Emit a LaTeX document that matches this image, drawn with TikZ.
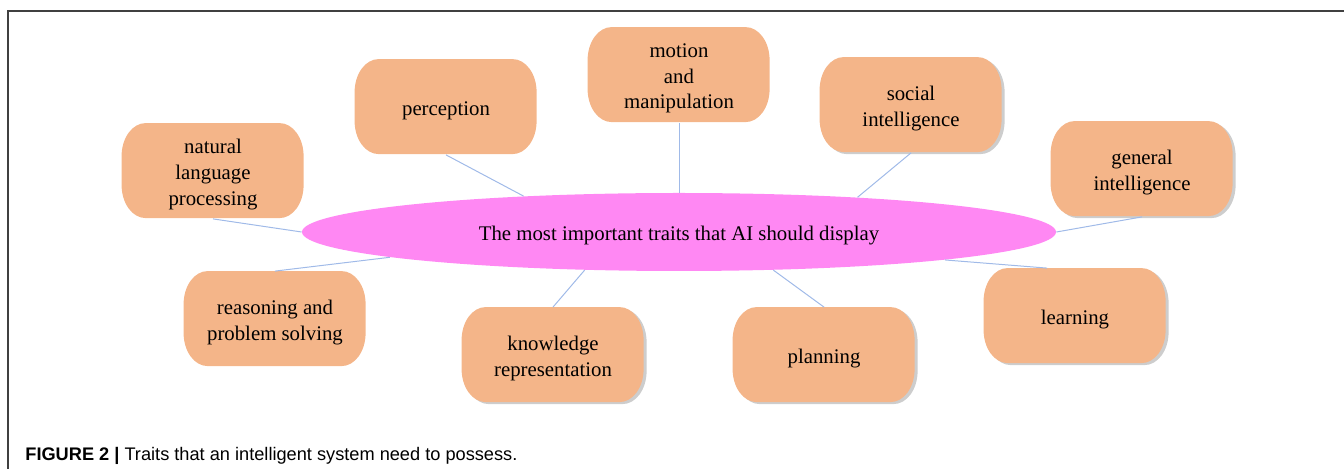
\documentclass[tikz,border=0pt]{standalone}
\usepackage{fontspec}
\setmainfont{Liberation Serif}
\newfontfamily\captionsans{Liberation Sans}
\usetikzlibrary{shapes.geometric,backgrounds}

\definecolor{traitfill}{RGB}{244,181,137}
\definecolor{corefill}{RGB}{255,136,243}
\definecolor{linkblue}{RGB}{160,186,232}
\definecolor{shadegray}{RGB}{205,205,205}

% outline of a trait box, started at its north west corner
\newcommand\traitoutline{++(24,0) -- ++(134,0)
    arc[start angle=90, end angle=0, x radius=24, y radius=33] -- ++(0,-29)
    arc[start angle=0, end angle=-90, x radius=24, y radius=33] -- ++(-134,0)
    arc[start angle=270, end angle=180, x radius=24, y radius=33] -- ++(0,29)
    arc[start angle=180, end angle=90, x radius=24, y radius=33] -- cycle}

\tikzset{
    % text sits a little below the middle of the box,
    % so the box itself is drawn 1.75pt higher than the node
    trait/.style={minimum width=91pt, minimum height=47.5pt, inner sep=0pt, yshift=-1.75pt,
        align=center, font=\fontsize{10.4}{12.8}\selectfont},
    core/.style={ellipse, fill=corefill, minimum width=377pt, minimum height=39pt,
        inner sep=0pt, text height=11pt, text depth=2.2pt, font=\fontsize{10.4}{12.8}\selectfont},
    link/.style={linkblue, line width=0.5pt},
    frame/.style={black!75, line width=0.8pt}
}

\begin{document}
\begin{tikzpicture}[x=0.5pt, y=0.5pt]
            \useasboundingbox (0,0) rectangle (1344,-469);
            \draw[frame] (8,-469) -- (8,-11) -- (1344,-11);

            \node[core] (core) at (679,-232) {The most important traits that AI should display};

            \node[trait] (nlp) at (213,-171) {natural\\language\\processing};
            \node[trait] (perc) at (446,-107) {perception};
            \node[trait] (motion) at (679,-75) {motion\\and\\manipulation};
            \node[trait] (social) at (911,-105) {social\\intelligence};
            \node[trait] (general) at (1142,-169) {general\\intelligence};
            \node[trait] (reason) at (275,-319) {reasoning and\\problem solving};
            \node[trait] (know) at (553,-355) {knowledge\\representation};
            \node[trait] (plan) at (824,-355) {planning};
            \node[trait] (learn) at (1075,-316) {learning};

            \begin{scope}[on background layer]
                \foreach \n in {social,general,know,plan,learn}
                    \fill[shadegray] ([shift={(3,1.5)}]\n.north west) \traitoutline;
                \foreach \n in {nlp,perc,motion,social,general,reason,know,plan,learn}
                    \fill[traitfill] ([yshift=1.75pt]\n.north west) \traitoutline;
            \end{scope}

            \draw[link] ([yshift=1.75pt]nlp.south) -- (core.180);
            \draw[link] ([yshift=1.75pt]perc.south) -- (core.167.7);
            \draw[link] ([yshift=1.75pt]motion.south) -- (core.90);
            \draw[link] ([yshift=1.75pt]social.south) -- (core.11.2);
            \draw[link] ([yshift=1.75pt]general.south) -- (core.0);
            \draw[link] ([yshift=1.75pt]reason.north) -- (core.185.5);
            \draw[link] ([yshift=1.75pt]know.north) -- (core.202.9);
            \draw[link] ([yshift=1.75pt]plan.north) -- (core.338.8);
            \draw[link] ([xshift=-14pt, yshift=1.75pt]learn.north) -- (core.354);

            \node[anchor=base west, inner sep=0pt, font=\captionsans\fontsize{9.1}{11}\selectfont] (caption) at (25,-461)
                {\textbf{FIGURE 2 |} Traits that an intelligent system need to possess.};
\end{tikzpicture}
\end{document}
